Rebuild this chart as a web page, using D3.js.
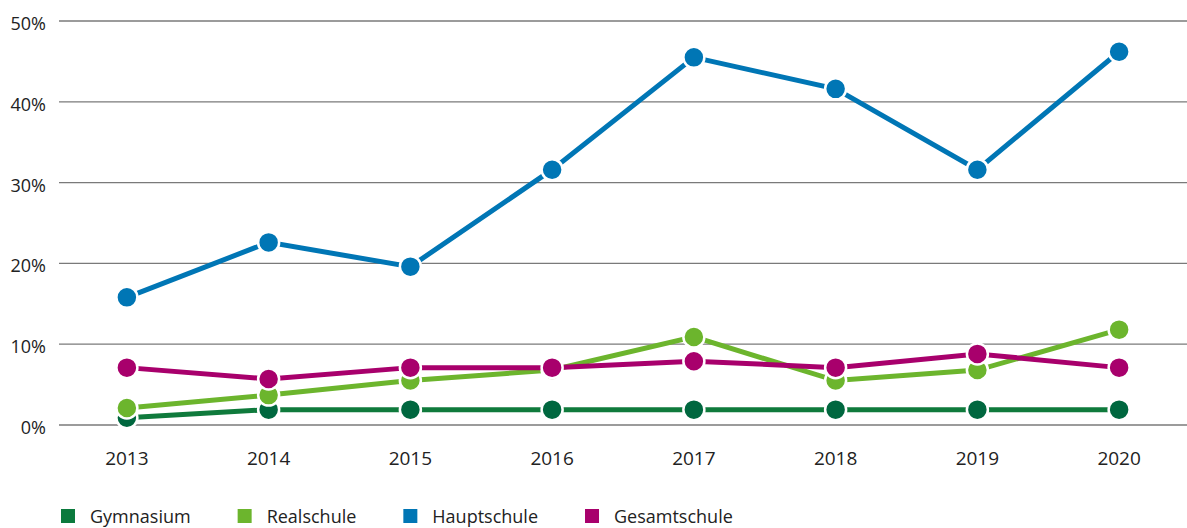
<!DOCTYPE html>
<html>
<head>
<meta charset="utf-8">
<script src="https://cdn.jsdelivr.net/npm/d3@7"></script>
<style>
  body { margin: 0; background: #fff; }
  svg { display: block; font-family: "Open Sans", "Noto Sans", sans-serif; }
</style>
</head>
<body>
<div id="chart"></div>
<script>
// data
var years = ["2013", "2014", "2015", "2016", "2017", "2018", "2019", "2020"];
var yTicks = [0, 10, 20, 30, 40, 50];
var gymnasium    = [0.9, 1.9, 1.9, 1.9, 1.9, 1.9, 1.9, 1.9];
var realschule   = [2.1, 3.7, 5.5, 6.8, 10.9, 5.5, 6.8, 11.8];
var hauptschule  = [15.8, 22.6, 19.6, 31.6, 45.5, 41.6, 31.6, 46.2];
var gesamtschule = [7.1, 5.7, 7.1, 7.1, 7.9, 7.1, 8.8, 7.1];

var series = [
  {name: "Gymnasium",    values: gymnasium,    line: "#0f7a3c", dot: "#00673f", key: "#0b7a3d"},
  {name: "Realschule",   values: realschule,   line: "#6cb52d", dot: "#6cb52d", key: "#6cb52d"},
  {name: "Hauptschule",  values: hauptschule,  line: "#0076b5", dot: "#0076b5", key: "#0076b5"},
  {name: "Gesamtschule", values: gesamtschule, line: "#a8006c", dot: "#a8006c", key: "#a8006c"}
];

var W = 1187, H = 528;
var gridLeft = 59;

var svg = d3.select("#chart").append("svg")
    .attr("width", W)
    .attr("height", H);

var x = d3.scalePoint()
    .domain(years)
    .range([56, 1190])
    .padding(0.5);

var y = d3.scaleLinear()
    .domain([0, 50])
    .range([425, 21]);

// gridlines + y labels
var grid = svg.append("g");
grid.selectAll("line")
    .data(yTicks)
    .enter().append("line")
    .attr("x1", gridLeft)
    .attr("x2", W)
    .attr("y1", function(d) { return y(d); })
    .attr("y2", function(d) { return y(d); })
    .attr("stroke", "#7a7a7a")
    .attr("stroke-width", 1.3);

grid.selectAll("text")
    .data(yTicks)
    .enter().append("text")
    .attr("x", 46)
    .attr("y", function(d) { return y(d) + 9; })
    .attr("text-anchor", "end")
    .attr("font-size", 18)
    .attr("fill", "#222")
    .text(function(d) { return d + "%"; });

// x labels
svg.append("g").selectAll("text")
    .data(years)
    .enter().append("text")
    .attr("x", function(d) { return x(d); })
    .attr("y", 465)
    .attr("text-anchor", "middle")
    .attr("font-size", 19)
    .attr("fill", "#222")
    .text(function(d) { return d; });

// lines and dots
var line = d3.line()
    .x(function(d, i) { return x(years[i]); })
    .y(function(d) { return y(d); });

series.forEach(function(s) {
  var g = svg.append("g");
  g.append("path")
      .datum(s.values)
      .attr("d", line)
      .attr("fill", "none")
      .attr("stroke", s.line)
      .attr("stroke-width", 5);
  g.selectAll("circle")
      .data(s.values)
      .enter().append("circle")
      .attr("cx", function(d, i) { return x(years[i]); })
      .attr("cy", function(d) { return y(d); })
      .attr("r", 10.5)
      .attr("fill", s.dot)
      .attr("stroke", "#fff")
      .attr("stroke-width", 2.5);
});

// legend
var legend = svg.append("g");
var lx = 61;
series.forEach(function(s) {
  legend.append("rect")
      .attr("x", lx)
      .attr("y", 509)
      .attr("width", 14)
      .attr("height", 14)
      .attr("fill", s.key);
  var t = legend.append("text")
      .attr("x", lx + 29)
      .attr("y", 523)
      .attr("font-size", 18)
      .attr("fill", "#222")
      .text(s.name);
  lx = lx + 29 + t.node().getComputedTextLength() + 47;
});
</script>
</body>
</html>
